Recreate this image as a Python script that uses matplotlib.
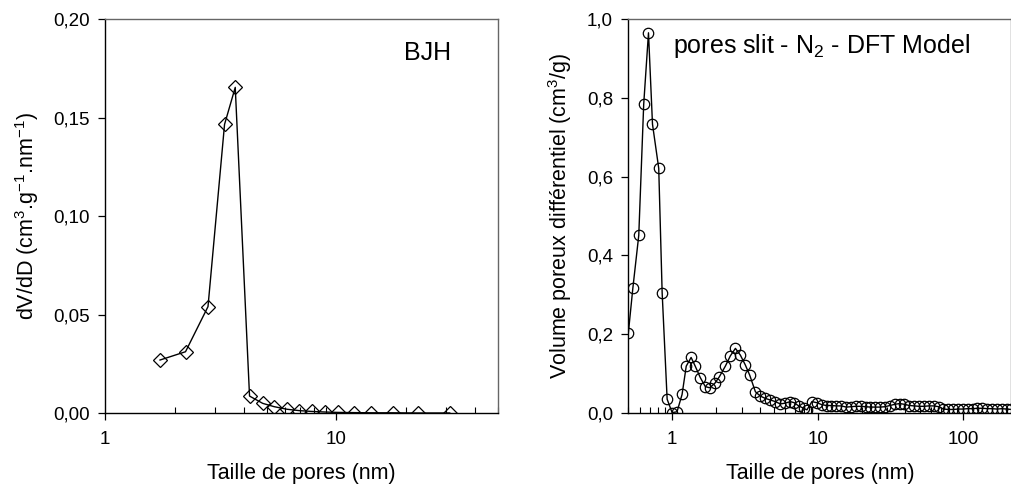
import matplotlib
matplotlib.use("Agg")
import matplotlib.pyplot as plt
from matplotlib.ticker import FixedLocator, FuncFormatter, LogLocator, NullFormatter

plt.rcParams['font.family'] = ['Liberation Sans', 'DejaVu Sans']
plt.rcParams['mathtext.fontset'] = 'custom'
plt.rcParams['mathtext.rm'] = 'Liberation Sans'
plt.rcParams['mathtext.it'] = 'Liberation Sans'
plt.rcParams['mathtext.default'] = 'regular'

# ---- data: BJH (left) ----
bjh_size = [1.73, 2.23, 2.79, 3.29, 3.66, 4.22, 4.81, 5.40, 6.13, 6.93, 7.83,
            8.94, 10.2, 11.9, 14.2, 17.6, 22.6, 31.0]
bjh_dvdd = [0.0269, 0.0311, 0.054, 0.1465, 0.1653, 0.0086, 0.0049, 0.0032,
            0.0019, 0.0012, 0.0008, 0.0005, 0.0003, 0.0002, 0.0001, 0.0001,
            0.0, 0.0]

# ---- data: DFT (right) ----
dft_size = [0.50, 0.537, 0.59, 0.638, 0.688, 0.733, 0.809, 0.854, 0.924, 1.0,
            1.08, 1.17, 1.25, 1.35, 1.44, 1.56, 1.69, 1.81, 1.96, 2.11,
            2.32, 2.51, 2.72, 2.94, 3.18, 3.41, 3.73, 4.03, 4.37, 4.72,
            5.11, 5.53, 5.98, 6.48, 6.90, 7.39, 8.0, 8.43, 9.12, 9.87,
            10.7, 11.5, 12.4, 13.4, 14.5, 15.7, 16.9, 18.3, 19.7, 21.3,
            23.0, 24.8, 26.8, 29.0, 31.3, 33.8, 36.5, 39.4, 42.6, 46.0,
            49.7, 53.6, 57.9, 62.6, 67.6, 73.0, 78.8, 85.1, 91.9, 99.3,
            107, 116, 125, 135, 146, 157, 170, 184, 198, 214]
dft_vol = [0.202, 0.316, 0.451, 0.784, 0.965, 0.733, 0.621, 0.305, 0.035, 0.001,
           0.003, 0.047, 0.119, 0.141, 0.119, 0.090, 0.067, 0.064, 0.075, 0.092,
           0.119, 0.145, 0.164, 0.147, 0.122, 0.096, 0.054, 0.043, 0.037, 0.033,
           0.029, 0.023, 0.025, 0.029, 0.026, 0.018, 0.012, 0.008, 0.029, 0.026,
           0.021, 0.019, 0.019, 0.018, 0.018, 0.015, 0.016, 0.017, 0.017, 0.016,
           0.015, 0.015, 0.015, 0.016, 0.019, 0.022, 0.024, 0.022, 0.019, 0.018,
           0.017, 0.017, 0.018, 0.018, 0.016, 0.010, 0.009, 0.009, 0.010, 0.010,
           0.011, 0.011, 0.012, 0.012, 0.011, 0.011, 0.010, 0.011, 0.010, 0.009]

W, H = 1012, 490
fig = plt.figure(figsize=(W / 100, H / 100), dpi=100)

def comma(fmt):
    return FuncFormatter(lambda v, p: (fmt % v).replace('.', ','))

def style(ax):
    for s in ['top', 'right']:
        ax.spines[s].set_color('#666666')
    for s in ['left', 'bottom']:
        ax.spines[s].set_color('black')
    for s in ax.spines.values():
        s.set_linewidth(1.0)
    ax.tick_params(axis='both', which='major', direction='out', length=5,
                   width=0.9, labelsize=13.5, pad=6)
    ax.tick_params(axis='x', which='major', pad=8)
    ax.tick_params(axis='x', which='minor', direction='in', length=4, width=0.8)
    ax.tick_params(top=False, right=False)

LBL = 15.5

# Left panel
ax1 = fig.add_axes([105 / W, 77 / H, 392.7 / W, 394 / H])
ax1.plot(bjh_size, bjh_dvdd, color='black', lw=1.0, marker='D', markersize=7.5,
         markerfacecolor='none', markeredgecolor='black', markeredgewidth=0.9)
ax1.set_xscale('log')
ax1.set_xlim(1, 50)
ax1.set_ylim(0, 0.20)
ax1.yaxis.set_major_locator(FixedLocator([0, 0.05, 0.10, 0.15, 0.20]))
ax1.yaxis.set_major_formatter(comma('%.2f'))
ax1.xaxis.set_major_locator(FixedLocator([1, 10]))
ax1.xaxis.set_major_formatter(FuncFormatter(lambda v, p: '%d' % v))
ax1.xaxis.set_minor_locator(LogLocator(base=10, subs=range(2, 10), numticks=20))
ax1.xaxis.set_minor_formatter(NullFormatter())
style(ax1)
ax1.set_xlabel('Taille de pores (nm)', fontsize=LBL, labelpad=11)
ax1.set_ylabel(r'dV/dD (cm$^{3}$.g$^{-1}$.nm$^{-1}$)', fontsize=LBL, labelpad=9)
fig.text(428 / W, 1 - 53 / H, 'BJH', fontsize=18, ha='center', va='center')

# Right panel
ax2 = fig.add_axes([628.3 / W, 77 / H, 383.2 / W, 394 / H])
ax2.plot(dft_size, dft_vol, color='black', lw=1.0, marker='o', markersize=7.5,
         markerfacecolor='none', markeredgecolor='black', markeredgewidth=0.9)
ax2.set_xscale('log')
ax2.set_xlim(0.5, 214)
ax2.set_ylim(0, 1.0)
ax2.yaxis.set_major_locator(FixedLocator([0, 0.2, 0.4, 0.6, 0.8, 1.0]))
ax2.yaxis.set_major_formatter(comma('%.1f'))
ax2.xaxis.set_major_locator(FixedLocator([1, 10, 100]))
ax2.xaxis.set_major_formatter(FuncFormatter(lambda v, p: '%d' % v))
ax2.xaxis.set_minor_locator(LogLocator(base=10, subs=range(2, 10), numticks=20))
ax2.xaxis.set_minor_formatter(NullFormatter())
style(ax2)
ax2.set_xlabel('Taille de pores (nm)', fontsize=LBL, labelpad=11)
ax2.set_ylabel('Volume poreux différentiel (cm$^3$/g)', fontsize=LBL, labelpad=9)
fig.text(673 / W, 1 - 46 / H, 'pores slit - N$_2$ - DFT Model', fontsize=18,
         ha='left', va='center')

fig.savefig('out.png', dpi=100)
